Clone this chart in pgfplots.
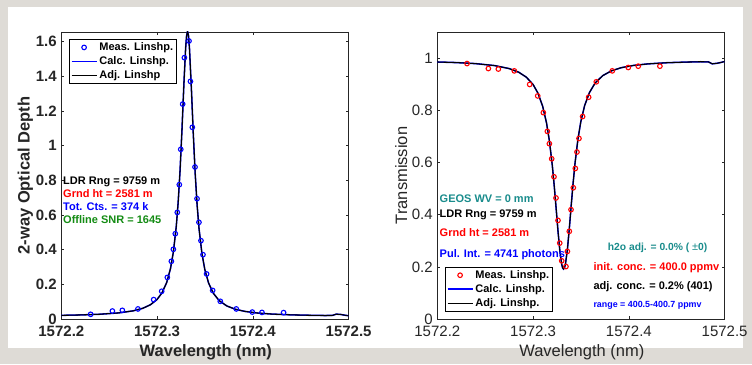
\documentclass[border=0pt]{standalone}
\usepackage{pgfplots}
\pgfplotsset{compat=1.18}
\usepackage{pgfplotstable}
\usepackage{fontspec}
\setmainfont{Liberation Sans}

\definecolor{bgc}{RGB}{222,219,214}
\definecolor{axc}{RGB}{38,38,38}
\definecolor{mgreen}{RGB}{20,140,20}
\definecolor{mteal}{RGB}{25,140,140}
\newcommand{\fs}[1]{\fontsize{#1}{#1}\selectfont}

% x = wavelength - 1572 nm ; od = 2-way optical depth ; t = transmission
\pgfplotstableread{
x od t
0.2000 0.0210 0.985
0.2200 0.0234 0.9828
0.2400 0.0274 0.9788
0.2600 0.0352 0.9712
0.2750 0.0470 0.9598
0.2850 0.0617 0.9458
0.2930 0.0821 0.9267
0.3000 0.1129 0.8986
0.3050 0.1496 0.8662
0.3100 0.2103 0.8152
0.3140 0.2913 0.7518
0.3170 0.3870 0.6832
0.3200 0.5330 0.5904
0.3220 0.6730 0.5132
0.3240 0.8590 0.4261
0.3260 1.0940 0.3369
0.3280 1.3580 0.2587
0.3298 1.5630 0.2108
0.3308 1.6350 0.1961
0.3318 1.6600 0.1913
0.3328 1.6350 0.1961
0.3338 1.5630 0.2108
0.3358 1.3310 0.2658
0.3378 1.0680 0.3458
0.3398 0.8375 0.4354
0.3418 0.6570 0.5215
0.3438 0.5210 0.5975
0.3468 0.3790 0.6887
0.3498 0.2860 0.7558
0.3538 0.2070 0.8179
0.3588 0.1480 0.8676
0.3648 0.1060 0.9048
0.3728 0.0753 0.9330
0.3818 0.0561 0.9511
0.3918 0.0437 0.9630
0.4050 0.0344 0.9720
0.4200 0.0284 0.9778
0.4400 0.0239 0.9823
0.4600 0.0214 0.9847
0.4750 0.0201 0.9860
0.4830 0.0205 0.9855
0.4870 0.0280 0.9780
0.4920 0.0260 0.9800
0.4970 0.0210 0.9840
0.5000 0.0190 0.9870
}\curve

\pgfplotstableread{
x od
0.2306 0.027
0.2533 0.046
0.2637 0.050
0.2800 0.058
0.2964 0.112
0.3048 0.160
0.3107 0.240
0.3149 0.333
0.3170 0.402
0.3190 0.492
0.3211 0.615
0.3232 0.775
0.3247 0.979
0.3267 1.240
0.3285 1.508
0.3333 1.604
0.3348 1.371
0.3368 1.106
0.3396 0.877
0.3417 0.694
0.3437 0.558
0.3458 0.452
0.3479 0.371
0.3517 0.260
0.3580 0.165
0.3660 0.102
0.3827 0.058
0.3994 0.040
0.4095 0.038
0.4321 0.037
}\measod

\pgfplotstableread{
x t
0.2310 0.979
0.2533 0.960
0.2637 0.958
0.2804 0.951
0.2964 0.899
0.3048 0.855
0.3107 0.791
0.3149 0.719
0.3170 0.672
0.3194 0.614
0.3218 0.545
0.3239 0.464
0.3260 0.378
0.3278 0.291
0.3299 0.223
0.3343 0.201
0.3358 0.259
0.3378 0.336
0.3396 0.419
0.3420 0.503
0.3441 0.577
0.3458 0.640
0.3479 0.692
0.3517 0.776
0.3580 0.850
0.3660 0.909
0.3827 0.951
0.3994 0.964
0.4098 0.969
0.4324 0.969
}\meast

\pgfplotsset{
 mystyle/.style={
  scale only axis, width=287.3pt, height=287pt,
  xmin=0.2, xmax=0.5,
  xtick={0.2,0.3,0.4,0.5},
  xticklabels={1572.2,1572.3,1572.4,1572.5},
  tick align=inside, major tick length=3pt,
  axis line style={axc, line width=0.6pt},
  tick style={axc, line width=0.6pt},
  ticklabel style={text=axc},
  xticklabel style={inner sep=0.5pt, text depth=0pt, yshift=-6.5pt},
  yticklabel style={inner sep=0.5pt, text depth=0pt, xshift=-4pt},
  label style={text=axc},
  /pgf/number format/assume math mode=true,
  ylabel style={at={(axis description cs:-0.1253,0.5)},anchor=center},
  xlabel style={at={(axis description cs:0.503,-0.115)},anchor=center},
  legend cell align=left,
  legend image code/.code={\draw[mark repeat=2,mark phase=2,##1] plot coordinates {(0pt,0pt) (12.5pt,0pt) (25pt,0pt)};},
  legend style={draw=black, line width=0.6pt, fill=white, inner sep=1.5pt,
     row sep=0.5pt, font=\bfseries\fs{11},
     nodes={inner sep=2pt}},
 }
}

\begin{document}
\begin{tikzpicture}
\path[use as bounding box] (0pt,0pt) rectangle (752pt,364pt);
\fill[bgc] (0pt,0pt) rectangle (752pt,364pt);
\fill[white] (8pt,16pt) rectangle (743pt,357pt);

% ---------- left panel ----------
\begin{axis}[mystyle,
  at={(61.33pt,45pt)}, anchor=south west,
  ymin=0, ymax=1.656,
  ytick={0,0.2,0.4,0.6,0.8,1,1.2,1.4,1.6},
  ticklabel style={font=\bfseries\fs{15}},
  label style={font=\bfseries\fs{16.5}},
  xlabel={Wavelength (nm)},
  ylabel={2-way Optical Depth},
  legend style={at={(axis description cs:0.0267,0.976)}, anchor=north west},
]
\addplot[only marks, mark=o, mark size=2.3pt, blue, line width=1.1pt] table[x=x,y=od] {\measod};
\addlegendentry{Meas. Linshp.}
\addplot[blue, line width=1.5pt, legend image post style={line width=1.6pt}] table[x=x,y=od] {\curve};
\addlegendentry{Calc. Linshp.}
\addplot[black, line width=1.1pt] table[x=x,y=od] {\curve};
\addlegendentry{Adj. Linshp}
\end{axis}

% ---------- right panel ----------
\begin{axis}[mystyle,
  at={(437.33pt,45pt)}, anchor=south west,
  ymin=0, ymax=1.1,
  ytick={0,0.2,0.4,0.6,0.8,1},
  ticklabel style={font=\fs{15}},
  label style={font=\fs{16.5}},
  xlabel={Wavelength (nm)},
  ylabel={Transmission},
  legend style={at={(axis description cs:0.0267,0.0254)}, anchor=south west},
]
\addplot[only marks, mark=o, mark size=2.3pt, red, line width=1.1pt] table[x=x,y=t] {\meast};
\addlegendentry{Meas. Linshp.}
\addplot[blue, line width=1.5pt, legend image post style={line width=1.6pt}] table[x=x,y=t] {\curve};
\addlegendentry{Calc. Linshp.}
\addplot[black, line width=1.1pt] table[x=x,y=t] {\curve};
\addlegendentry{Adj. Linshp.}
\end{axis}

% ---------- annotations ----------
\begin{scope}[every node/.style={anchor=west, inner sep=0pt, font=\bfseries\fs{11}}]
\node[text=black]  at (63pt,182.3pt) {LDR Rng = 9759 m};
\node[text=red]    at (63pt,170pt)   {Grnd ht = 2581 m};
\node[text=blue]   at (63pt,157.3pt) {Tot. Cts. = 374 k};
\node[text=mgreen] at (63pt,144pt)   {Offline SNR = 1645};

\node[text=mteal]  at (439.5pt,165.7pt) {GEOS WV = 0 mm};
\node[text=black]  at (439.5pt,149pt)   {LDR Rng = 9759 m};
\node[text=red]    at (439.5pt,131.7pt) {Grnd ht = 2581 m};
\node[text=blue]   at (439.5pt,109.7pt) {Pul. Int. = 4741 photons};

\node[text=mteal, font=\bfseries\fs{10.3}] at (607.7pt,115.7pt) {h2o adj. = 0.0\% ( {\mdseries\fs{11}±}0)};
\node[text=red]    at (593.3pt,96.3pt) {init. conc. = 400.0 ppmv};
\node[text=black]  at (593.3pt,77pt)   {adj. conc. = 0.2\% (401)};
\node[text=blue, font=\bfseries\fs{8.9}] at (593.3pt,59pt) {range = 400.5-400.7 ppmv};
\end{scope}
\end{tikzpicture}
\end{document}
